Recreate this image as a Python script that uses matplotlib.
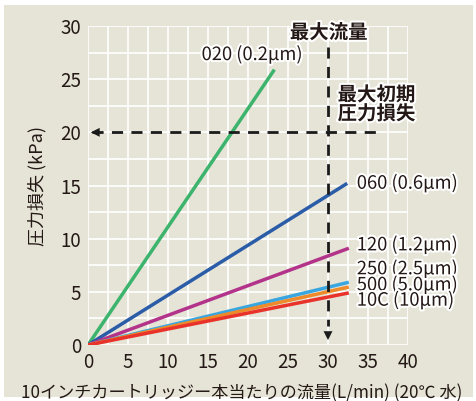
import matplotlib
matplotlib.use("Agg")
import matplotlib.pyplot as plt
import matplotlib.patheffects as pe
from matplotlib.patches import Rectangle
import numpy as np

plt.rcParams['font.family'] = ['Noto Sans CJK JP', 'DejaVu Sans']

# Data
series_names = ["020", "060", "120", "250", "500", "10C"]
series_labels = ["020 (0.2\u03bcm)", "060 (0.6\u03bcm)", "120 (1.2\u03bcm)",
                 "250 (2.5\u03bcm)", "500 (5.0\u03bcm)", "10C (10\u03bcm)"]
flow_end = [23.3, 32.4, 32.6, 32.6, 32.6, 32.6]
loss_end = [25.9, 15.2, 9.1, 5.9, 5.45, 4.9]
colors = ["#3db46d", "#2a5ca8", "#b3338b", "#3aa6e0", "#ee8a2a", "#e8322a"]

x_ticks = [0, 5, 10, 15, 20, 25, 30, 35, 40]
y_ticks = [0, 5, 10, 15, 20, 25, 30]
max_flow = 30
max_loss = 20

bg = "#e5e4d6"
txt = "#231815"

fig = plt.figure(figsize=(4.77, 4.01), dpi=100)
fig.patch.set_facecolor("white")
fig.patches.append(Rectangle((4/477, 4/401), 469/477, 392/401, transform=fig.transFigure,
                             facecolor=bg, edgecolor="none", zorder=-10))

ax = fig.add_axes([88/477, 1-345/401, 320/477, 319/401])
ax.set_facecolor(bg)
ax.set_xlim(0, 40)
ax.set_ylim(0, 30)
for s in ax.spines.values():
    s.set_visible(False)

# grid every 2.5
for gx in np.arange(0, 40.01, 2.5):
    ax.axvline(gx, color="white", lw=1.2, zorder=0)
for gy in np.arange(0, 30.01, 2.5):
    ax.axhline(gy, color="white", lw=1.2, zorder=0)

ax.set_xticks(x_ticks)
ax.set_yticks(y_ticks)
ax.tick_params(length=0, labelsize=13.5, colors=txt, pad=5)

halo = [pe.withStroke(linewidth=3, foreground="white")]

for xe, ye, c in zip(flow_end, loss_end, colors):
    ax.plot([0, xe], [0, ye], color=c, lw=2.5, solid_capstyle="butt", zorder=3)

# labels
lab_pos = [(14.2, 27.3), (33.6, 15.2), (33.6, 9.4), (33.6, 7.15), (33.6, 5.64), (33.6, 4.2)]
for (lx, ly), lab in zip(lab_pos, series_labels):
    ax.text(lx, ly, lab, fontsize=13.2, color=txt, va="center", ha="left",
            path_effects=halo, zorder=5, clip_on=False)

# dashed guide lines
ax.plot([0.5, 36], [max_loss, max_loss], color="#1a1a1a", lw=2, ls=(0, (4, 3)), zorder=4)
ax.annotate("", xy=(0, max_loss), xytext=(1.5, max_loss),
            arrowprops=dict(arrowstyle="-|>", color="#1a1a1a", lw=0, mutation_scale=16), zorder=4)
ax.plot([max_flow, max_flow], [28.0, 1.8], color="#1a1a1a", lw=2, ls=(0, (4, 3)), zorder=4)
ax.annotate("", xy=(max_flow, 0.2), xytext=(max_flow, 2.0),
            arrowprops=dict(arrowstyle="-|>", color="#1a1a1a", lw=0, mutation_scale=16), zorder=4)

ax.text(30.1, 29.35, "最大流量", fontsize=14, color=txt, ha="center", va="center",
        fontweight="bold", path_effects=halo, zorder=5, clip_on=False)
ax.text(31.2, 22.6, "最大初期\n圧力損失", fontsize=14, color=txt, ha="left", va="center",
        fontweight="bold", linespacing=0.95, path_effects=halo, zorder=5, clip_on=False)

ax.set_xlabel("10インチカートリッジー本当たりの流量(L/min) (20℃ 水)", fontsize=12.3,
              color=txt)
ax.xaxis.set_label_coords(0.481, -0.123)
ax.set_ylabel("圧力損失 (kPa)", fontsize=13, color=txt, labelpad=10)

fig.savefig("out.png", dpi=100, facecolor=fig.get_facecolor())
